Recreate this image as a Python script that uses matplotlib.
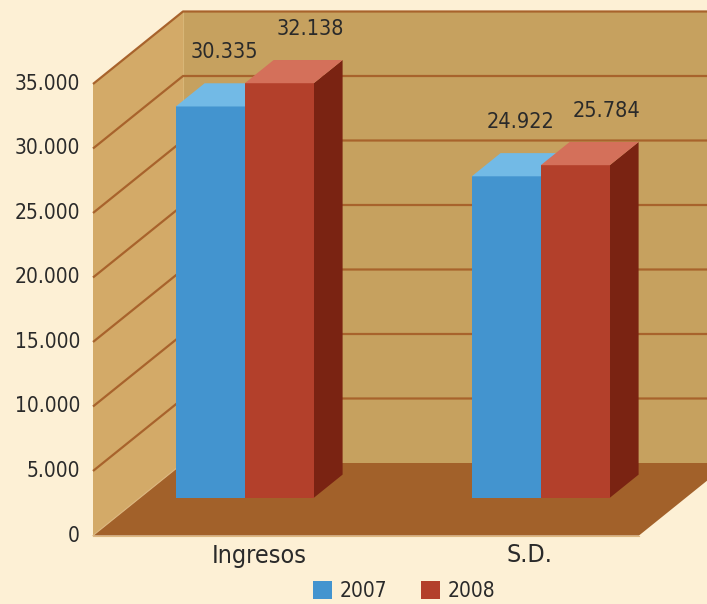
import matplotlib.pyplot as plt
from matplotlib.patches import Polygon, Patch

# dati
categorie = ['Ingresos', 'S.D.']
serie = ['2007', '2008']
valori_2007 = [30335, 24922]
valori_2008 = [32138, 25784]
etichette_2007 = ['30.335', '24.922']
etichette_2008 = ['32.138', '25.784']
tick_valori = [0, 5000, 10000, 15000, 20000, 25000, 30000, 35000]
tick_etichette = ['0', '5.000', '10.000', '15.000', '20.000', '25.000', '30.000', '35.000']

# colori
sfondo = '#FDF0D5'
parete_sx = '#D3AA68'
parete_fondo = '#C6A15F'
pavimento = '#A2612A'
griglia = '#A8632C'
testo = '#2A2A2A'
col_fronte = ['#4394CF', '#B3402B']
col_sopra = ['#72BAE6', '#D4705A']
col_lato = ['#2F6FA0', '#7A2312']

FONT = dict(family='DejaVu Sans', stretch='condensed')

# geometria (1 unita x = distanza fra categorie, y in valori)
U = 35000 / 451.5          # valore per pixel
PX = 1 / 296               # unita x per pixel
DX = 90 * PX               # profondita totale in x
DY = 72.5 * U              # profondita totale in y
FL = -105 * PX             # bordo sinistro del pavimento
FR = 441 * PX              # bordo destro del pavimento
YMAX = tick_valori[-1]
W = 69 * PX                # larghezza barra
D0, D1 = 0.52, 0.84        # profondita barre


def pt(x, v, d):
    return (x + d * DX, v + d * DY)


fig = plt.figure(figsize=(7.07, 6.04), dpi=100)
fig.patch.set_facecolor(sfondo)
ax = fig.add_axes([0, 0, 1, 1])
ax.set_xlim(-198 * PX, 509 * PX)
ax.set_ylim(-68.5 * U, 535.5 * U)
ax.axis('off')

# pareti e pavimento
ax.add_patch(Polygon([pt(FL, 0, 0), pt(FL, 0, 1), pt(FL, YMAX, 1), pt(FL, YMAX, 0)],
                     closed=True, facecolor=parete_sx, edgecolor='none', zorder=0))
ax.add_patch(Polygon([pt(FL, 0, 1), pt(FR, 0, 1), pt(FR, YMAX, 1), pt(FL, YMAX, 1)],
                     closed=True, facecolor=parete_fondo, edgecolor='none', zorder=0))
ax.add_patch(Polygon([pt(FL, 0, 0), pt(FR, 0, 0), pt(FR, 0, 1), pt(FL, 0, 1)],
                     closed=True, facecolor=pavimento, edgecolor='none', zorder=0))

# bordi chiari del pavimento
for a, b in [(pt(FL, 0, 0), pt(FL, 0, 1)), (pt(FL, 0, 0), pt(FR, 0, 0))]:
    ax.plot([a[0], b[0]], [a[1], b[1]], color='#DDB880', lw=0.8, zorder=1)
a, b = pt(FL, 0, 1), pt(FL, YMAX, 1)
ax.plot([a[0], b[0]], [a[1], b[1]], color='#D8B677', lw=0.8, zorder=1)

# griglia
for v in tick_valori[1:]:
    a, b, c = pt(FL, v, 0), pt(FL, v, 1), pt(FR, v, 1)
    ax.plot([a[0], b[0], c[0]], [a[1], b[1], c[1]], color=griglia, lw=1.6,
            solid_capstyle='butt', zorder=1)

# etichette asse y
for v, lab in zip(tick_valori, tick_etichette):
    ax.text(FL - 13 * PX, v, lab, ha='right', va='center', fontsize=15,
            color=testo, **FONT)

# barre
valori = [valori_2007, valori_2008]
etichette = [etichette_2007, etichette_2008]
spost_x = [-W, 0]
spost_lab = [14 * PX, 31 * PX]
for i, cat in enumerate(categorie):
    for s in range(len(serie)):
        v = valori[s][i]
        x0 = i + spost_x[s]
        x1 = x0 + W
        lato = [pt(x1, 0, D0), pt(x1, 0, D1), pt(x1, v, D1), pt(x1, v, D0)]
        fronte = [pt(x0, 0, D0), pt(x1, 0, D0), pt(x1, v, D0), pt(x0, v, D0)]
        sopra = [pt(x0, v, D0), pt(x1, v, D0), pt(x1, v, D1), pt(x0, v, D1)]
        for faccia, col in [(lato, col_lato[s]), (fronte, col_fronte[s]), (sopra, col_sopra[s])]:
            ax.add_patch(Polygon(faccia, closed=True, facecolor=col, edgecolor='none', zorder=3))
        lx, ly = pt(x0 + W / 2 + spost_lab[s], v + 54 * U, D0)
        ax.text(lx, ly, etichette[s][i], ha='center', va='center', fontsize=15.5,
                color=testo, zorder=4, **FONT)

# etichette categorie
spost_cat = [61 * PX, 35 * PX]
for i, cat in enumerate(categorie):
    ax.text(i + spost_cat[i], -20 * U, cat, ha='center', va='center', fontsize=18,
            color=testo, **FONT)

# legenda
maniglie = [Patch(facecolor=col_fronte[s], edgecolor='none', label=serie[s])
            for s in range(len(serie))]
leg = fig.legend(handles=maniglie, loc='center', bbox_to_anchor=(0.572, 0.021),
                 ncol=2, frameon=False, handlelength=0.9,
                 handleheight=0.9, handletextpad=0.38, columnspacing=1.6,
                 borderpad=0, prop=dict(size=15, **FONT))
for t in leg.get_texts():
    t.set_color(testo)

fig.savefig('out.png', dpi=100, facecolor=fig.get_facecolor())
